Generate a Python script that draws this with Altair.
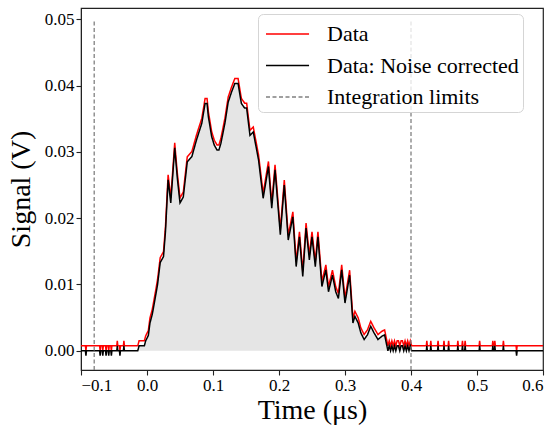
import altair as alt
import pandas as pd

# ---- data ----
OFFSET_V = 0.00075  # baseline offset removed by the noise correction

time_us = [
    -0.1, -0.0933, -0.0925, -0.0917, -0.0718, -0.071, -0.0702, -0.0678, -0.067, -0.0662,
    -0.0628, -0.062, -0.0612, -0.0588, -0.058, -0.0572, -0.0548, -0.054, -0.0532,
    -0.0458, -0.045, -0.0442, -0.0418, -0.041, -0.0402, -0.0358, -0.035, -0.0342,
    -0.014, -0.012, -0.004, -0.002, 0.002, 0.0045, 0.008, 0.012, 0.016, 0.02, 0.025,
    0.028, 0.032, 0.036, 0.042, 0.046, 0.05, 0.055, 0.061, 0.068, 0.075, 0.083, 0.088,
    0.091, 0.093, 0.098, 0.102, 0.106, 0.109, 0.112, 0.118, 0.123, 0.128, 0.133, 0.138,
    0.143, 0.148, 0.151, 0.156, 0.161, 0.169, 0.176, 0.184, 0.189, 0.194, 0.202, 0.208,
    0.214, 0.221, 0.226, 0.231, 0.236, 0.241, 0.246, 0.25, 0.255, 0.259, 0.265, 0.271,
    0.275, 0.281, 0.286, 0.29, 0.295, 0.30, 0.307, 0.312, 0.315, 0.32, 0.324, 0.329,
    0.334, 0.339, 0.344, 0.35, 0.356, 0.36, 0.365, 0.367, 0.369, 0.371, 0.373, 0.375,
    0.377, 0.379, 0.381, 0.383, 0.385, 0.387, 0.389, 0.391, 0.393, 0.395, 0.397, 0.399,
    0.401,
    0.4232, 0.424, 0.4248, 0.4292, 0.430, 0.4308, 0.4402, 0.441, 0.4418, 0.4492, 0.450,
    0.4508, 0.4562, 0.457, 0.4578, 0.4702, 0.471, 0.4718, 0.4772, 0.478, 0.4788, 0.4812,
    0.482, 0.4828, 0.5032, 0.504, 0.5048, 0.5232, 0.524, 0.5248, 0.5262, 0.527, 0.5278,
    0.5392, 0.540, 0.5408, 0.5592, 0.560, 0.5608, 0.6,
]

corrected_V = [
    0, 0, -0.00075, 0, 0, -0.00075, 0, 0, -0.00075, 0,
    0, -0.00075, 0, 0, -0.00075, 0, 0, -0.00075, 0,
    0, 0.00075, 0, 0, -0.00075, 0, 0, 0.00075, 0,
    0, 0.00075, 0.00075, 0.0015, 0.0023, 0.0042, 0.0055, 0.0077, 0.010, 0.0133, 0.0142,
    0.018, 0.0258, 0.0223, 0.0306, 0.026, 0.0223, 0.0232, 0.0285, 0.0293, 0.0318, 0.0343, 0.0373,
    0.0373, 0.0353, 0.0323, 0.031, 0.0303, 0.0303, 0.0313, 0.0343, 0.0375, 0.039, 0.0403, 0.0403,
    0.0373, 0.0366, 0.0366, 0.0325, 0.033, 0.0288, 0.023, 0.0278, 0.0215, 0.0273, 0.0175, 0.025,
    0.0167, 0.0202, 0.0127, 0.0172, 0.0112, 0.0185, 0.0137, 0.0172, 0.0127, 0.0172, 0.0097, 0.0122,
    0.0089, 0.0114, 0.0089, 0.0079, 0.0122, 0.0072, 0.0114, 0.0042, 0.0052, 0.0042, 0.0027, 0.0017,
    0.0024, 0.0037, 0.0027, 0.0017, 0.0022, 0.0024, 0, 0.00075, 0, 0.00075, 0, 0.00075,
    0, 0.00075, 0.00075, 0, 0.00075, 0.00075, 0, 0.00075, 0, 0.00075, 0, 0.00075,
    0,
    0, 0.00075, 0, 0, 0.00075, 0, 0, 0.00075, 0, 0, 0.00075,
    0, 0, 0.00075, 0, 0, 0.00075, 0, 0, 0.00075, 0, 0,
    0.00075, 0, 0, 0.00075, 0, 0, 0.00075, 0, 0, 0.00075, 0,
    0, 0.00075, 0, 0, -0.00075, 0, 0,
]

limits_us = [-0.08, 0.4]
limit_top_V = 0.05
series_names = ["Data", "Data: Noise corrected", "Integration limits"]
series_colors = ["#ff0000", "#000000", "#808080"]

x_ticks = [-0.1, 0.0, 0.1, 0.2, 0.3, 0.4, 0.5, 0.6]
y_ticks = [0.0, 0.01, 0.02, 0.03, 0.04, 0.05]
X_DOMAIN = [-0.1, 0.6]
Y_DOMAIN = [-0.0029, 0.0517]

# ---- tables ----
raw_V = [v + OFFSET_V for v in corrected_V]
df = pd.concat([
    pd.DataFrame({"t": time_us, "v": raw_V, "series": "Data"}),
    pd.DataFrame({"t": time_us, "v": corrected_V, "series": "Data: Noise corrected"}),
])
lim_df = pd.DataFrame({"t": limits_us, "y0": Y_DOMAIN[0], "y1": limit_top_V,
                       "series": "Integration limits"})
fill_df = pd.DataFrame({"t": time_us, "v": corrected_V})
fill_df = fill_df[(fill_df.t >= limits_us[0]) & (fill_df.t <= limits_us[1])]
fill_df = fill_df.assign(v=fill_df.v.clip(lower=0))

FONT = "Liberation Serif"

xenc = alt.X("t:Q", scale=alt.Scale(domain=X_DOMAIN, nice=False, zero=False),
             axis=alt.Axis(values=x_ticks, format=".1f", title="Time (μs)",
                           labelExpr="replace(datum.label, '-', '−')"))
yenc = alt.Y("v:Q", scale=alt.Scale(domain=Y_DOMAIN, nice=False, zero=False),
             axis=alt.Axis(values=y_ticks, format=".2f", title="Signal (V)"))

legend = alt.Legend(title=None, orient="none", legendX=177, legendY=6,
                    symbolType="M-0.8,0H2.07", symbolSize=900, symbolStrokeWidth=1.5,
                    labelFont=FONT, labelFontSize=22, labelColor="black",
                    rowPadding=4.5, padding=4, labelOffset=33,
                    fillColor="rgba(255,255,255,0.8)", strokeColor="#d5d5d5",
                    cornerRadius=5, labelLimit=400)
color = alt.Color("series:N", scale=alt.Scale(domain=series_names, range=series_colors),
                  legend=legend)
dash = alt.StrokeDash("series:N",
                      scale=alt.Scale(domain=series_names,
                                      range=[[1, 0], [1, 0], [4, 2.5]]),
                      legend=legend)

area = alt.Chart(fill_df).mark_area(color="#e5e5e5", clip=True).encode(x=xenc, y=yenc)

red = alt.Chart(df).transform_filter(alt.datum.series == "Data").mark_line(
    strokeWidth=1.5, clip=True).encode(x=xenc, y=yenc, color=color, strokeDash=dash)
black = alt.Chart(df).transform_filter(alt.datum.series == "Data: Noise corrected").mark_line(
    strokeWidth=1.5, clip=True).encode(x=xenc, y=yenc, color=color, strokeDash=dash)
rules = alt.Chart(lim_df).mark_rule(strokeWidth=1.3).encode(
    x="t:Q", y="y0:Q", y2="y1:Q", color=color, strokeDash=dash)

chart = alt.layer(area, red, black, rules).properties(
    width=462, height=362,
    autosize=alt.AutoSizeParams(type="none"),
    padding={"left": 81, "top": 8, "right": 10, "bottom": 58},
).configure_view(stroke="#222", strokeWidth=1.2).configure_axis(
    grid=False, domainColor="#222", tickColor="#222", tickSize=5, tickWidth=1.1,
    labelFont=FONT, labelFontSize=17, labelColor="black", labelPadding=2,
    titleFont=FONT, titleFontSize=28, titleFontWeight="normal", titleColor="black",
).configure_axisY(titlePadding=9).configure_axisX(titlePadding=3)

chart.save("out.html", embed_options={"renderer": "svg", "actions": False})
